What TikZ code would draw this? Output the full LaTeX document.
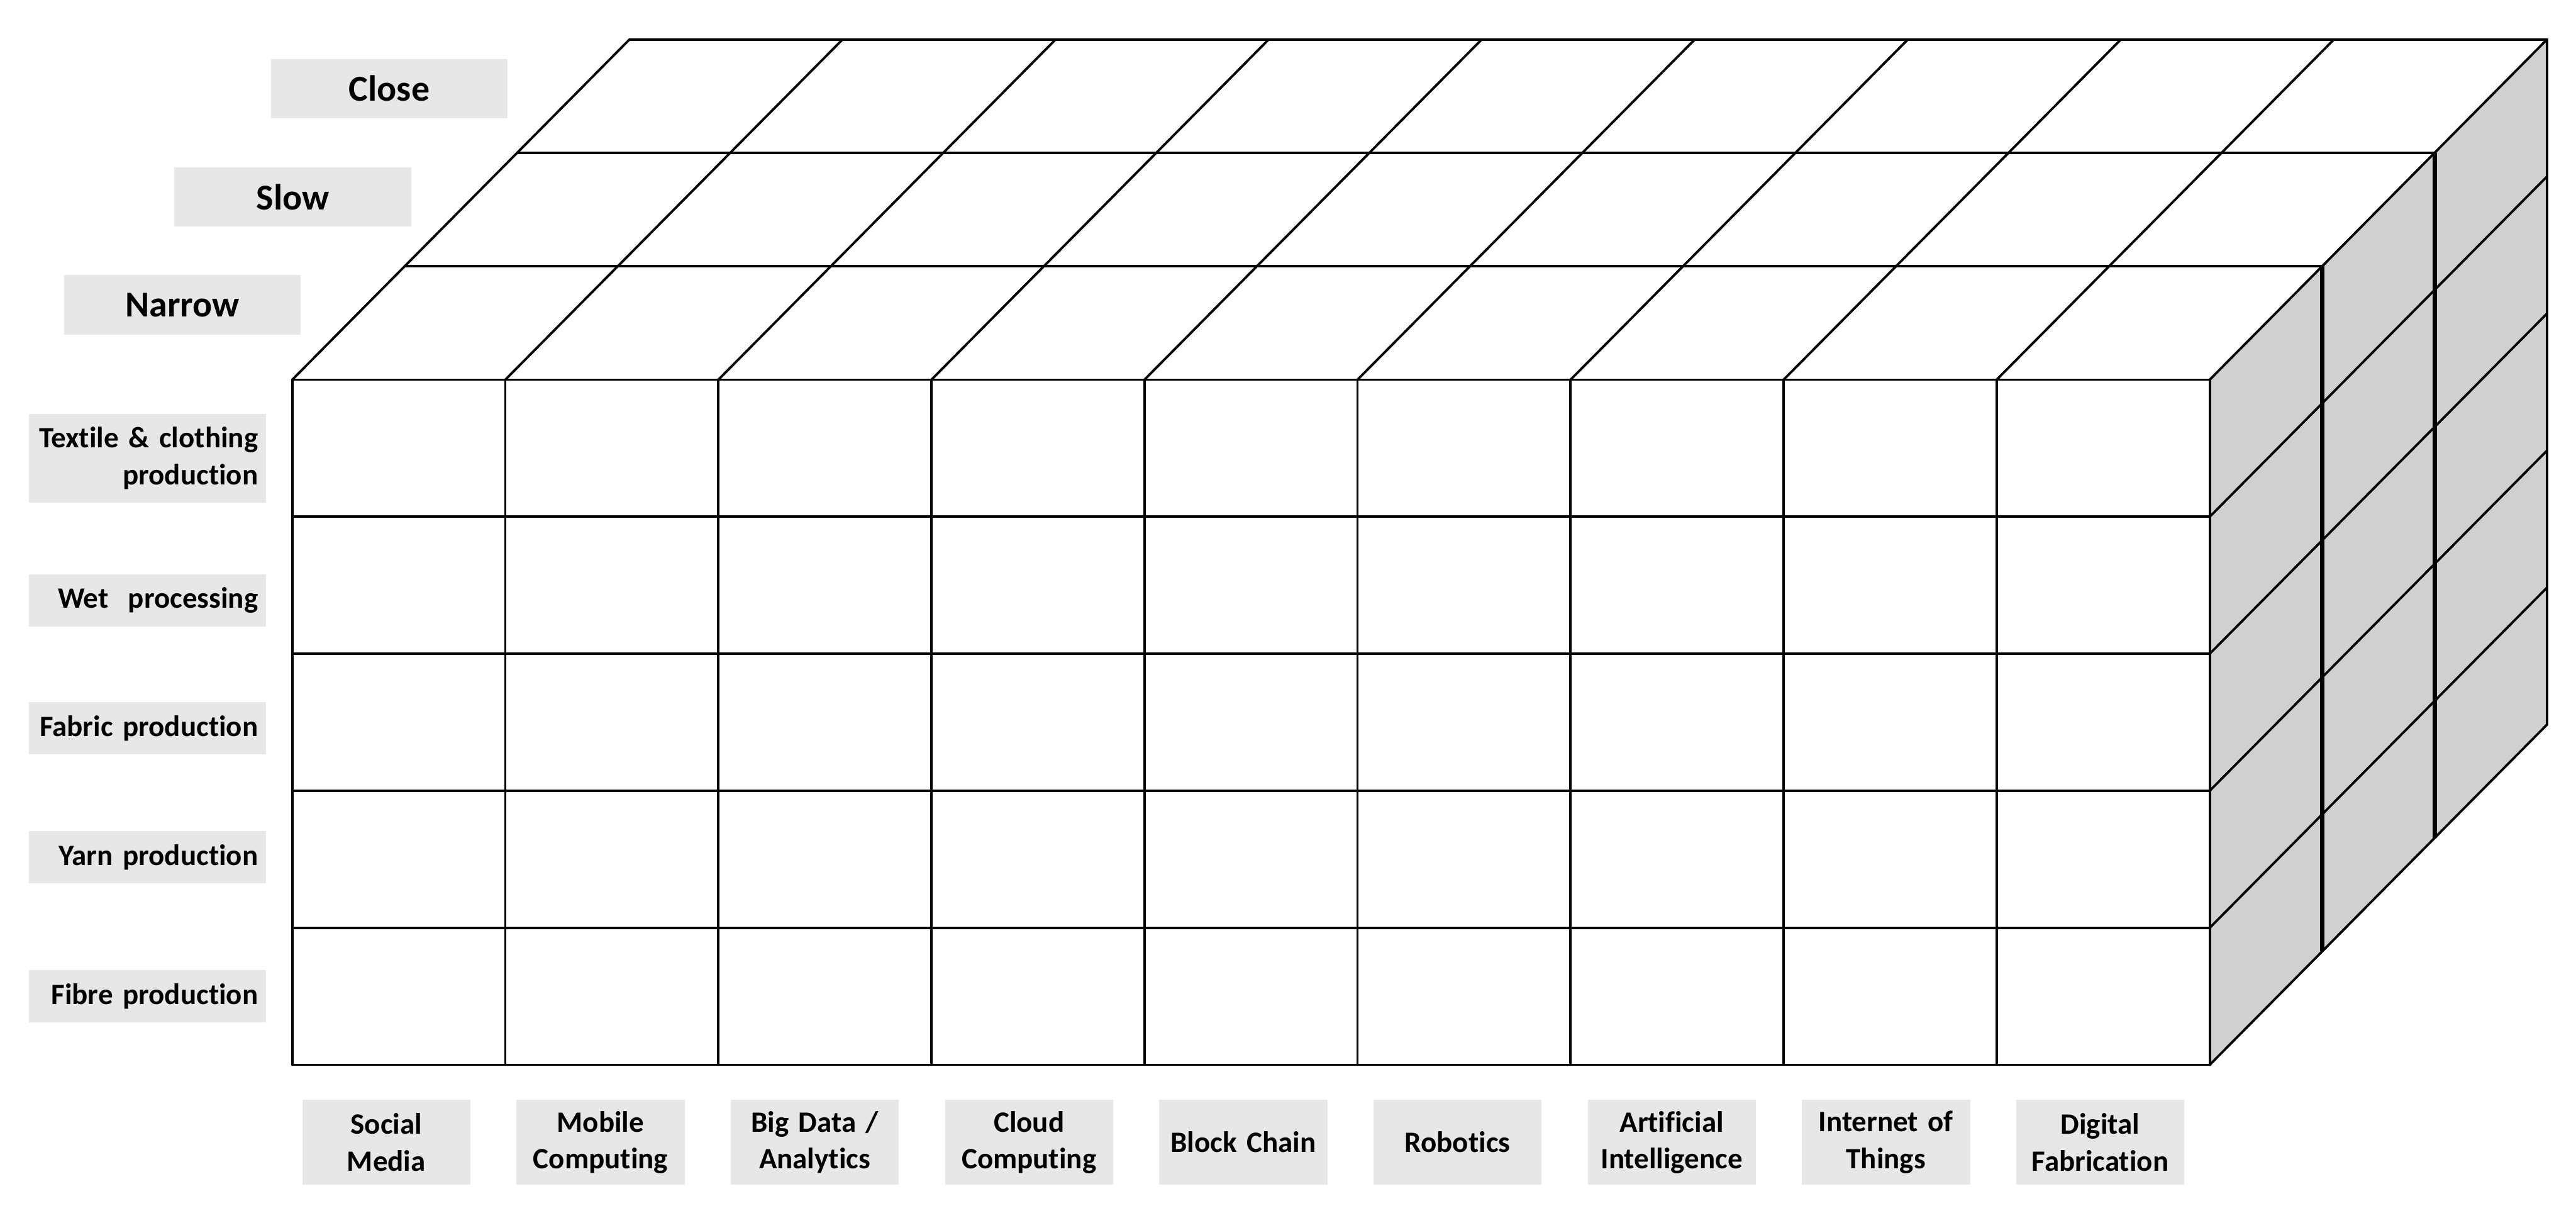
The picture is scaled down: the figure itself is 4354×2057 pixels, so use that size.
\documentclass[tikz,border=0pt]{standalone}
\usepackage{fontspec}
\setmainfont{Carlito}[Ligatures=NoCommon]
\definecolor{labelgray}{HTML}{E7E7E7}
\definecolor{sidegray}{HTML}{D0D0D0}
\tikzset{
  lab/.style={fill=labelgray, inner sep=0pt},
  toplab/.style={lab, minimum width=4cm, minimum height=1cm,
    font=\fontsize{17.5}{21}\selectfont\bfseries},
  rowlab/.style={lab, minimum width=4.01cm, minimum height=0.88cm, text width=3.73cm,
    align=right, font=\fontsize{14.2}{17.6}\selectfont\bfseries},
  techlab/.style={lab, minimum width=2.84cm, minimum height=1.44cm, text width=2.84cm,
    align=center, font=\fontsize{14.2}{17.6}\selectfont\bfseries},
  cell/.style={line width=1.15pt, line cap=round},
}
\begin{document}
\begin{tikzpicture}[x=0.01cm,y=-0.01cm]
  \useasboundingbox (0,0) rectangle (4354,2057);
  % right face
  \fill[sidegray] (3735,641.5) -- (4305,66) -- (4305,1224) -- (3735,1799) -- cycle;
  % front face
  \foreach \i in {0,...,9}
    \draw[cell] ({494+360.1*\i},641.5) -- ({494+360.1*\i},1799);
  \foreach \j in {0,...,5}
    \draw[cell] (494,{641.5+231.5*\j}) -- (3735,{641.5+231.5*\j});
  % top face
  \foreach \k in {1,2,3}
    \draw[cell] ({494+190*\k},{641.5-191.6*\k}) -- ({3735+190*\k},{641.5-191.6*\k});
  \foreach \i in {0,...,9}
    \draw[cell] ({494+360.1*\i},641.5) -- ({1064+360.1*\i},66.7);
  % right face lines
  \foreach \k in {0,3}
    \draw[cell] ({3735+190*\k},{641.5-191.6*\k}) -- ({3735+190*\k},{1799-191.6*\k});
  \foreach \k in {1,2}
    \draw[line width=2pt] ({3735+190*\k},{641.5-191.6*\k}) -- ({3735+190*\k},{1799-191.6*\k});
  \foreach \j in {1,...,5}
    \draw[cell] (3735,{641.5+231.5*\j}) -- (4305,{66.7+231.5*\j});

  % depth labels
  \node[toplab] (close) at (658,149.5) {Close};
  \node[toplab] (slow) at (495,333) {Slow};
  \node[toplab] (narrow) at (308.5,515) {Narrow};

  % stage labels
  \node[rowlab, minimum height=1.5cm] (textile) at (249.5,774) {Textile \& clothing\\production};
  \node[rowlab] (wet) at (249.5,1014.5) {Wet\ \ processing};
  \node[rowlab] (fabric) at (249.5,1230.5) {Fabric production};
  \node[rowlab] (yarn) at (249.5,1448) {Yarn production};
  \node[rowlab] (fibre) at (249.5,1683.5) {Fibre production};

  % technology labels
  \foreach \n/\t [count=\i from 0] in {social/{Social\\Media}, mobile/{Mobile\\Computing},
      bigdata/{Big Data /\\Analytics}, cloud/{Cloud\\Computing}, block/{Block Chain},
      robotics/{Robotics}, ai/{Artificial\\Intelligence}, iot/{Internet of\\Things},
      digital/{Digital\\Fabrication}}
    \node[techlab] (\n) at ({653+362.1*\i},1930) {\t};
\end{tikzpicture}
\end{document}
